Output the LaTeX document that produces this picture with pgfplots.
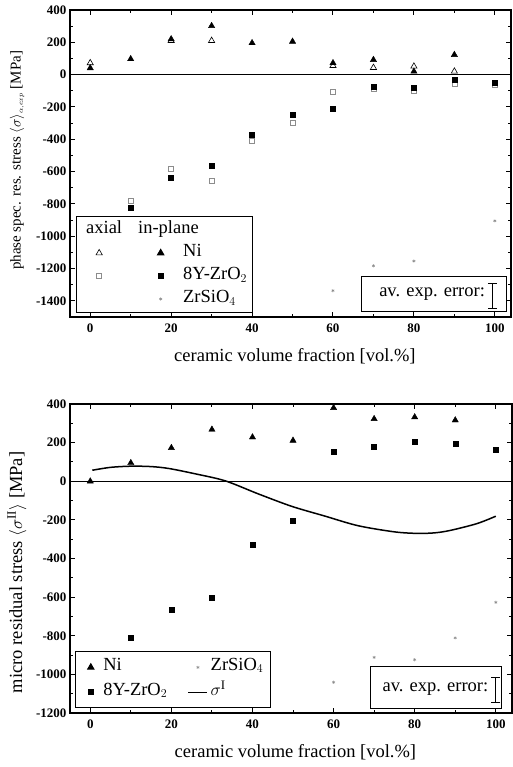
\documentclass[border=0pt]{standalone}
\usepackage{pgfplots}
\pgfplotsset{compat=1.18}
\usepackage{fontspec}
\setmainfont{Liberation Serif}
\begin{document}
\begin{tikzpicture}
\path[use as bounding box] (0pt,0pt) rectangle (513pt,-767pt);
\pgfplotsset{
 every axis/.append style={
  scale only axis,
  xmin=-5, xmax=104,
  xtick={0,20,...,100},
  minor x tick num=1,
  minor y tick num=1,
  tick align=inside,
  major tick length=5pt, minor tick length=3pt,
  every tick/.style={line width=1pt, black},
  axis line style={line width=1.3pt},
  ticklabel style={font=\bfseries\fontsize{13}{15}\selectfont},
  xticklabel style={yshift=-3pt},
  label style={font=\fontsize{18.5}{22}\selectfont},
  xlabel style={at={(axis description cs:0.51,-0.128)}, anchor=center},
  /pgf/number format/assume math mode=true,
  /pgf/number format/1000 sep={},
  legend cell align=left,
 },
 ni/.style={only marks, mark=triangle*, mark size=3.6pt, black},
 niax/.style={only marks, mark=triangle, mark size=3.6pt, black, mark options={line width=0.6pt}},
 zr/.style={only marks, mark=square*, mark size=2.5pt, black},
 zrax/.style={only marks, mark=square, mark size=2.5pt, black!45, mark options={line width=0.7pt}},
 zs/.style={only marks, mark=asterisk, mark size=1.6pt, black!45, mark options={line width=0.5pt}},
 axleg/.style={legend image code/.code={\draw[##1] plot coordinates {(19pt,0pt)}; \path (0pt,0pt) (26pt,0pt);}},
 inleg/.style={legend image code/.code={\draw[##1] plot coordinates {(6.5pt,0pt)}; \path (0pt,0pt) (26pt,0pt);}},
 shortleg/.style={legend image code/.code={\draw[mark repeat=2,mark phase=2,##1] plot coordinates {(0pt,0pt)(9.5pt,0pt)(19pt,0pt)}; \path (0pt,0pt) (19pt,0pt);}},
 errbar/.style={only marks, mark size=0pt, forget plot, error bars/.cd, y dir=both, y explicit,
  error bar style={line width=1pt, black}, error mark options={rotate=90, mark size=4.5pt, line width=1pt, black}},
}
% ---------------- top axis ----------------
\begin{axis}[at={(70pt,-317pt)}, anchor=south west, width=441pt, height=307pt,
  ymin=-1500, ymax=400, ytick={-1400,-1200,...,400},
  xlabel={ceramic volume fraction [vol.\%]},
  ylabel={phase spec. res. stress $\langle\sigma\rangle_{\scriptscriptstyle\alpha,exp}$ [MPa]},
  ylabel style={font=\fontsize{15}{18}\selectfont, at={(axis description cs:-0.12,0.51)}, anchor=center},
  legend columns=2,
  legend style={at={(0.014,0.013)}, anchor=south west, draw=black, line width=1pt,
    font=\fontsize{18.5}{22}\selectfont, inner xsep=3pt, inner ysep=2pt, column sep=0pt,
    nodes={inner sep=2.5pt, text height=12.5pt, text depth=5.5pt}},
  inleg,
]
\addlegendimage{empty legend}
\addlegendentry{\makebox[42pt][l]{\hspace*{-23pt}axial}}
\addlegendimage{empty legend}
\addlegendentry{\makebox[0pt][l]{\hspace*{-45pt}in-plane}}
\addlegendimage{niax, axleg}
\addlegendentry{\makebox[42pt]{}}
\addlegendimage{ni}
\addlegendentry{Ni}
\addlegendimage{zrax, axleg}
\addlegendentry{\makebox[42pt]{}}
\addlegendimage{zr}
\addlegendentry{8Y-ZrO$_2$}
\addlegendimage{empty legend}
\addlegendentry{\makebox[42pt]{}}
\addlegendimage{zs}
\addlegendentry{ZrSiO$_4$}

\addplot[black, line width=1.3pt, forget plot] coordinates {(-5,0) (104,0)};
% axial Ni
\addplot[niax, forget plot] coordinates {(0,72) (20,210) (30,210) (60,55) (70,43) (80,51) (90,20)};
% in-plane Ni
\addplot[ni, forget plot] coordinates {(0,41) (10,97) (20,220) (30,302) (40,196) (50,205) (60,72) (70,92) (80,20) (90,123)};
% axial ZrO2
\addplot[zrax, forget plot] coordinates {(10,-782) (20,-586) (30,-659) (40,-412) (50,-298) (60,-105) (70,-85) (80,-100) (90,-55) (100,-65)};
% in-plane ZrO2
\addplot[zr, forget plot] coordinates {(10,-823) (20,-638) (30,-562) (40,-370) (50,-247) (60,-212) (70,-72) (80,-82) (90,-31) (100,-51)};
% ZrSiO4
\addplot[zs, forget plot] coordinates {(60,-1337) (70,-1183) (80,-1154) (100,-905)};
% error annotation
\draw[line width=1pt] (axis cs:67.1,-1247) rectangle (axis cs:102.8,-1469);
\node[anchor=east, font=\fontsize{18.5}{22}\selectfont, inner sep=0pt] at (axis cs:97.6,-1358) {av. exp. error:};
\addplot[errbar] coordinates {(99.4,-1370) +- (0,80)};
\end{axis}
% ---------------- bottom axis ----------------
\begin{axis}[at={(70pt,-713pt)}, anchor=south west, width=442pt, height=309pt,
  ymin=-1200, ymax=400, ytick={-1200,-1000,...,400},
  xlabel={ceramic volume fraction [vol.\%]},
  ylabel={micro residual stress $\langle\sigma^{\mathrm{II}}\rangle$ [MPa]},
  ylabel style={at={(axis description cs:-0.12,0.455)}, anchor=center},
  legend columns=2,
  legend style={at={(0.012,0.015)}, anchor=south west, draw=black, line width=1pt,
    font=\fontsize{18.5}{22}\selectfont, inner xsep=5pt, inner ysep=3pt, column sep=0pt,
    nodes={inner sep=2.5pt, text height=13pt, text depth=7pt}},
  shortleg,
]
\addlegendimage{ni}
\addlegendentry{Ni}
\addlegendimage{zs}
\addlegendentry{ZrSiO$_4$}
\addlegendimage{zr}
\addlegendentry{8Y-ZrO$_2$\hspace*{18pt}}
\addlegendimage{black, line width=1.5pt}
\addlegendentry{$\sigma^{\mathrm{I}}$}

\addplot[black, line width=1.3pt, forget plot] coordinates {(-5,0) (104,0)};
\addplot[ni, forget plot] coordinates {(0,0) (10,95) (20,173) (30,268) (40,228) (50,211) (60,380) (70,323) (80,332) (90,316)};
\addplot[zr, forget plot] coordinates {(10,-811) (20,-665) (30,-604) (40,-328) (50,-202) (60,155) (70,181) (80,204) (90,194) (100,161)};
\addplot[zs, forget plot] coordinates {(60,-1041) (70,-912) (80,-924) (90,-811) (100,-627)};
\addplot[black, line width=1.5pt, smooth, tension=0.5, forget plot] coordinates {
 (0.5,57) (5,72) (10,78) (15,76) (19.4,66) (26,38) (33.3,2) (41.5,-66) (49.7,-130)
 (57.8,-180) (66,-230) (75,-262) (80.7,-270) (85,-267) (88.9,-254) (95.4,-219) (100,-181)};
\draw[line width=1pt] (axis cs:69.2,-959) rectangle (axis cs:101.4,-1175);
\node[anchor=east, font=\fontsize{18.5}{22}\selectfont, inner sep=0pt] at (axis cs:98.2,-1075) {av. exp. error:};
\addplot[errbar] coordinates {(100,-1083) +- (0,65)};
\end{axis}
\end{tikzpicture}
\end{document}
